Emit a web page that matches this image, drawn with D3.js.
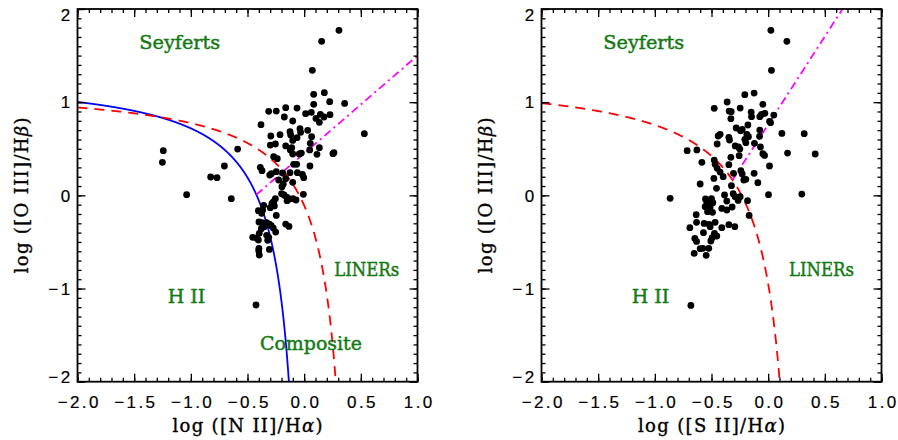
<!DOCTYPE html>
<html>
<head>
<meta charset="utf-8">
<script src="https://cdn.jsdelivr.net/npm/d3@7"></script>
<style>
  body { margin: 0; background: #fff; }
  svg { display: block; }
</style>
</head>
<body>
<svg id="fig" width="898" height="440"></svg>
<script>
// ---------- tick values and labels ----------
const xTickValues = [-2, -1.5, -1, -0.5, 0, 0.5, 1];
const xTickLabels = ["\u22122.0", "\u22121.5", "\u22121.0", "\u22120.5", "0.0", "0.5", "1.0"];
const yTickValues = [-2, -1, 0, 1, 2];
const yTickLabels = ["\u22122", "\u22121", "0", "1", "2"];

// ---------- galaxies: [log([N II]/Ha), log([O III]/Hb)] ----------
const niiGalaxies = [
  [0.307,1.771],[0.154,1.653],[0.072,1.342],[0.084,1.084],[0.178,1.102],[0.225,1.005],[0.357,0.987],
  [0.084,0.977],[-0.313,0.902],[-0.246,0.905],[-0.163,0.941],[-0.063,0.937],[0.013,0.877],[0.063,0.891],
  [0.143,0.869],[0.104,0.826],[0.175,0.841],[0.134,0.784],[0.228,0.866],[-0.175,0.841],[-0.101,0.798],
  [-0.381,0.758],[-0.037,0.716],[0.531,0.662],
  [-0.294,0.637],[-0.213,0.651],[-0.125,0.683],[-0.119,0.648],[-0.031,0.676],[0.031,0.698],[0.066,0.630],
  [-0.063,0.619],[-0.101,0.590],[-0.299,0.540],[-0.254,0.551],[-0.163,0.530],[-0.110,0.512],[0.054,0.558],
  [0.134,0.512],
  [-0.122,0.487],[-0.101,0.444],[-0.043,0.444],[-0.025,0.454],[0.049,0.487],[0.113,0.440],[0.254,0.447],
  [0.263,0.458],
  [-0.269,0.415],[-0.237,0.394],[-0.093,0.333],[-0.066,0.333],[0.051,0.315],[-0.387,0.301],[-0.372,0.265],
  [-0.246,0.254],[-0.190,0.240],[-0.125,0.243],[-0.060,0.243],[-0.016,0.225],[-0.004,0.190],[-0.290,0.233],
  [-0.304,0.218],[-0.225,0.165],[-0.163,0.179],[-0.101,0.140],[-0.184,0.122],[-0.196,0.093],[-0.199,0.018],
  [-0.178,0.004],[-0.154,-0.018],[-0.131,-0.039],[-0.099,-0.036],[-0.072,-0.050],[-0.007,0.011],
  [-0.254,-0.036],[-0.269,-0.068],[-0.151,-0.057],
  [-0.404,-0.165],[-0.366,-0.157],[-0.375,-0.193],[-0.357,-0.107],[-0.299,-0.132],[-0.284,-0.086],
  [-0.263,-0.114],[-0.246,-0.215],[-0.399,-0.286],[-0.372,-0.293],[-0.331,-0.293],[-0.307,-0.308],
  [-0.351,-0.336],[-0.290,-0.326],[-0.272,-0.351],[-0.163,-0.308],[-0.134,-0.333],[-0.378,-0.358],
  [-0.251,-0.394],[-0.396,-0.408],[-0.331,-0.429],[-0.313,-0.451],[-0.454,-0.451],[-0.422,-0.458],
  [-0.404,-0.479],[-0.322,-0.483],[-0.399,-0.569],[-0.401,-0.594],[-0.396,-0.640],[-0.307,-0.580],
  [-1.243,0.479],[-1.251,0.354],[-1.037,0.007],[-0.825,0.197],[-0.769,0.190],[-0.704,0.315],
  [-0.587,0.497],[-0.643,-0.036],[-0.425,-1.177]
];

// ---------- galaxies: [log([S II]/Ha), log([O III]/Hb)] ----------
const siiGalaxies = [
  [0.024,1.771],[0.165,1.653],[0.029,1.342],[-0.124,1.098],[-0.206,1.080],[-0.362,1.002],[-0.476,0.934],
  [0.318,0.662],[0.415,0.444],[0.171,0.454],[0.121,0.665],[0.297,0.014],[0.003,0.007],[0.012,0.315],
  [-0.865,-0.032],[-0.682,-1.181],[-0.715,0.479],[-0.629,0.487],
  [-0.344,0.905],[-0.326,0.898],[-0.247,0.937],[-0.150,0.894],[-0.147,0.844],[-0.329,0.823],[-0.047,0.977],
  [-0.059,0.869],[-0.029,0.880],[-0.074,0.844],[0.050,0.862],[0.012,0.794],[0.021,0.780],[-0.179,0.755],
  [-0.282,0.723],[-0.244,0.694],[-0.229,0.708],[-0.074,0.701],[-0.424,0.655],[-0.441,0.637],[-0.347,0.623],
  [-0.341,0.594],[-0.188,0.655],[-0.174,0.630],[-0.206,0.601],[-0.076,0.633],[-0.450,0.551],[-0.291,0.530],
  [-0.262,0.519],[-0.197,0.565],[-0.121,0.558],[-0.068,0.519],[-0.250,0.497],[-0.047,0.447],[-0.032,0.429],
  [-0.585,0.354],[-0.476,0.379],[-0.468,0.333],[-0.450,0.290],[-0.424,0.250],[-0.397,0.200],[-0.479,0.182],
  [-0.329,0.408],[-0.256,0.426],[-0.347,0.329],[-0.306,0.236],[-0.241,0.265],[-0.229,0.229],[-0.197,0.172],
  [-0.215,0.165],[-0.124,0.236],[-0.091,0.136],[-0.324,0.104],[-0.600,0.122],[-0.456,0.075],
  [-0.385,0.004],[-0.309,0.018],[-0.291,-0.014],[-0.247,-0.014],[-0.265,-0.054],[-0.182,-0.057],
  [-0.365,-0.061],[-0.553,-0.039],[-0.500,-0.036],[-0.541,-0.075],[-0.488,-0.079],[-0.556,-0.122],
  [-0.512,-0.129],[-0.409,-0.140],[-0.365,-0.157],[-0.318,-0.125],[-0.635,-0.208],[-0.535,-0.175],
  [-0.491,-0.182],[-0.168,-0.215],[-0.632,-0.290],[-0.565,-0.301],[-0.521,-0.311],[-0.468,-0.290],
  [-0.512,-0.336],[-0.571,-0.401],[-0.409,-0.347],[-0.347,-0.315],[-0.294,-0.336],[-0.691,-0.347],
  [-0.474,-0.408],[-0.453,-0.437],[-0.494,-0.454],[-0.506,-0.490],[-0.647,-0.462],[-0.632,-0.494],
  [-0.576,-0.569],[-0.524,-0.569],[-0.600,-0.572],[-0.653,-0.623],[-0.547,-0.644]
];

// ---------- demarcation lines ----------
// hyperbolae y = a / (x - b) + c, given as [a, b, c]
const kauffmannNII = [0.61, 0.05, 1.30];
const kewleyNII    = [0.61, 0.47, 1.19];
const kewleySII    = [0.72, 0.32, 1.30];
// straight Seyfert / LINER dividers y = m x + q, given as [m, q]
const seyLinerNII  = [1.05, 0.45];
const seyLinerSII  = [1.89, 0.76];

// ---------- layout ----------
const W = 340, H = 372.7, TOP = 9;
const GREEN = "#137a13";
const TICK_FONT = "'Liberation Sans', Arial, sans-serif";
const TITLE_FONT = "'DejaVu Serif', serif";

const svg = d3.select("#fig");

function hyperbola(c, xs) {
  return xs.map(x => [x, c[0] / (x - c[1]) + c[2]]);
}
// left crossing of the straight divider with the hyperbola
function crossing(h, l) {
  const [a, b, c] = h, [m, q] = l;
  const A = m, B = (q - c) - m * b, C = -(q - c) * b - a;
  return (-B - Math.sqrt(B * B - 4 * A * C)) / (2 * A);
}

function panel(opts) {
  const g = svg.append("g").attr("transform", `translate(${opts.left},${TOP})`);
  const x = d3.scaleLinear().domain([-2, 1]).range([0, W]);
  const y = d3.scaleLinear().domain([-2, 2]).range([H, 0]);

  const clipId = "clip" + opts.id;
  g.append("clipPath").attr("id", clipId)
    .append("rect").attr("width", W).attr("height", H);

  const plot = g.append("g").attr("clip-path", `url(#${clipId})`);
  const line = d3.line().x(d => x(d[0])).y(d => y(d[1]));

  // hyperbolic boundaries, sampled up to where they leave the bottom edge
  opts.curves.forEach(cv => {
    const xEnd = cv.c[1] + cv.c[0] / (-2 - cv.c[2]);
    const xs = d3.range(0, 1201).map(i => -2 + (xEnd - -2) * i / 1200);
    plot.append("path")
      .attr("d", line(hyperbola(cv.c, xs)))
      .attr("fill", "none")
      .attr("stroke", cv.color)
      .attr("stroke-width", 1.8)
      .attr("stroke-dasharray", cv.dash || null);
  });

  // Seyfert / LINER divider
  const x0 = crossing(opts.divBase, opts.divider);
  const x1 = Math.min(1, (2 - opts.divider[1]) / opts.divider[0]);
  plot.append("path")
    .attr("d", line([x0, x1].map(v => [v, opts.divider[0] * v + opts.divider[1]])))
    .attr("fill", "none")
    .attr("stroke", "#ff00ff")
    .attr("stroke-width", 1.8)
    .attr("stroke-dasharray", "8,4,2,4");

  // galaxies
  plot.selectAll("circle.gal").data(opts.points).join("circle")
    .attr("class", "gal")
    .attr("cx", d => x(d[0]))
    .attr("cy", d => y(d[1]))
    .attr("r", 3.4)
    .attr("fill", "#000");

  // region names
  opts.regions.forEach(r => {
    const t = g.append("text")
      .attr("x", x(r.x)).attr("y", y(r.y))
      .attr("font-family", TITLE_FONT)
      .attr("font-size", 19)
      .attr("fill", GREEN)
      .attr("stroke", GREEN).attr("stroke-width", 0.45)
      .text(r.t);
    if (r.w) t.attr("textLength", r.w).attr("lengthAdjust", "spacingAndGlyphs");
  });

  // axes: ticks point inwards on all four sides
  const minorX = d3.range(-20, 11).map(v => v / 10);
  const minorY = d3.range(-20, 21).map(v => v / 10);
  const styleAxis = sel => {
    sel.select(".domain").remove();
    sel.selectAll("line").attr("stroke", "#000").attr("stroke-width", 1.3);
    sel.selectAll("text").attr("font-family", TICK_FONT).attr("font-size", 17)
      .attr("letter-spacing", 2.4).attr("fill", "#000")
      .attr("stroke", "#000").attr("stroke-width", 0.2);
  };

  g.append("g").attr("transform", `translate(0,${H})`)
    .call(d3.axisBottom(x).tickValues(minorX).tickSize(-4).tickFormat("")).call(styleAxis);
  g.append("g").attr("transform", `translate(0,${H})`)
    .call(d3.axisBottom(x).tickValues(xTickValues).tickSizeInner(-8).tickSizeOuter(0)
      .tickPadding(14).tickFormat((d, i) => xTickLabels[i]))
    .call(styleAxis)
    .selectAll("text").attr("dx", 1.2);

  g.append("g")
    .call(d3.axisTop(x).tickValues(minorX).tickSize(-4).tickFormat("")).call(styleAxis);
  g.append("g")
    .call(d3.axisTop(x).tickValues(xTickValues).tickSize(-8).tickFormat("")).call(styleAxis);

  g.append("g")
    .call(d3.axisLeft(y).tickValues(minorY).tickSize(-4).tickFormat("")).call(styleAxis);
  const yl = g.append("g")
    .call(d3.axisLeft(y).tickValues(yTickValues).tickSizeInner(-8).tickSizeOuter(0)
      .tickPadding(5).tickFormat((d, i) => yTickLabels[i]))
    .call(styleAxis);
  // keep the end labels inside the axis span
  yl.selectAll(".tick text").attr("dy", d => d === 2 ? "0.68em" : d === -2 ? "0.02em" : "0.34em");

  g.append("g").attr("transform", `translate(${W},0)`)
    .call(d3.axisRight(y).tickValues(minorY).tickSize(-4).tickFormat("")).call(styleAxis);
  g.append("g").attr("transform", `translate(${W},0)`)
    .call(d3.axisRight(y).tickValues(yTickValues).tickSize(-8).tickFormat("")).call(styleAxis);

  // frame
  g.append("rect").attr("width", W).attr("height", H)
    .attr("fill", "none").attr("stroke", "#000").attr("stroke-width", 1.8);

  // axis titles
  const xt = g.append("text")
    .attr("x", W / 2).attr("y", H + 50)
    .attr("text-anchor", "middle")
    .attr("font-family", TITLE_FONT).attr("font-size", 18).attr("fill", "#000")
    .attr("stroke", "#000").attr("stroke-width", 0.35)
    .attr("textLength", opts.xTitleW).attr("lengthAdjust", "spacing");
  xt.append("tspan").text(`log ([${opts.ion}]/H`);
  xt.append("tspan").attr("font-style", "italic").text("\u03b1");
  xt.append("tspan").text(")");

  const ytl = g.append("text")
    .attr("transform", `translate(-50,${H / 2}) rotate(-90)`)
    .attr("text-anchor", "middle")
    .attr("font-family", TITLE_FONT).attr("font-size", 18).attr("fill", "#000")
    .attr("stroke", "#000").attr("stroke-width", 0.35)
    .attr("textLength", 156).attr("lengthAdjust", "spacing");
  ytl.append("tspan").text("log ([O III]/H");
  ytl.append("tspan").attr("font-style", "italic").text("\u03b2");
  ytl.append("tspan").text(")");
}

panel({
  id: "N", left: 77.5, points: niiGalaxies, ion: "N II", xTitleW: 150,
  curves: [
    { c: kauffmannNII, color: "#0000ff" },
    { c: kewleyNII, color: "#ff0000", dash: "10,7" }
  ],
  divBase: kauffmannNII, divider: seyLinerNII,
  regions: [
    { t: "Seyferts", x: -1.455, y: 1.571, w: 81 },
    { t: "H\u00a0II", x: -1.204, y: -1.156 },
    { t: "LINERs", x: 0.266, y: -0.866, w: 65 },
    { t: "Composite", x: -0.390, y: -1.660, w: 102 }
  ]
});

panel({
  id: "S", left: 541.5, points: siiGalaxies, ion: "S II", xTitleW: 147,
  curves: [
    { c: kewleySII, color: "#ff0000", dash: "10,7" }
  ],
  divBase: kewleySII, divider: seyLinerSII,
  regions: [
    { t: "Seyferts", x: -1.455, y: 1.571, w: 81 },
    { t: "H\u00a0II", x: -1.204, y: -1.156 },
    { t: "LINERs", x: 0.184, y: -0.866, w: 65 }
  ]
});
</script>
</body>
</html>
